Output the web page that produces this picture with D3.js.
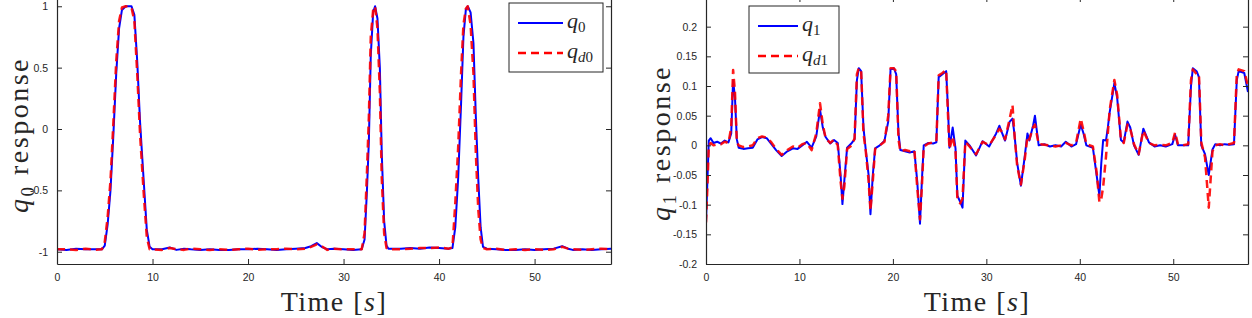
<!DOCTYPE html>
<html>
<head>
<meta charset="utf-8">
<script src="https://cdn.jsdelivr.net/npm/d3@7"></script>
<style>
  body { margin: 0; background: #fff; }
  svg { display: block; }
  .tick text { font-family: "Liberation Sans", Arial, sans-serif; font-size: 10.5px; fill: #262626; }
  .lbl { font-family: "Liberation Serif", "DejaVu Serif", serif; fill: #262626; }
</style>
</head>
<body>
<svg id="chart" width="1252" height="318"></svg>
<script>
// left panel: q0 vs desired qd0
const time0 = [0, 1, 2, 3, 4, 4.7, 5.0, 5.3, 5.6, 5.9, 6.2, 6.5, 6.8, 7.2, 7.8, 8.1, 8.4, 8.7, 9.1, 9.4, 9.7, 10,
  11, 11.8, 12.5, 13.3, 14, 15, 16, 17, 18, 19, 20, 21, 22, 23, 24, 25, 26, 26.6, 27.2, 27.8, 28.3, 29, 30, 31,
  31.9, 32.2, 32.45, 32.65, 32.85, 33.1, 33.3, 33.55, 33.8, 34.0, 34.25, 34.5, 34.7,
  36, 37, 38, 39, 40, 41, 41.4, 41.7, 42.0, 42.3, 42.55, 42.8, 43.0, 43.3, 43.6, 43.85, 44.1, 44.35, 44.6,
  45, 46, 47, 48, 49, 50, 51, 52, 52.9, 53.5, 54, 55, 56, 57, 58];
const q0 = [-0.98, -0.985, -0.975, -0.98, -0.98, -0.98, -0.95, -0.78, -0.5, -0.05, 0.45, 0.82, 0.97, 1.0, 1.0, 0.93, 0.55, 0.05, -0.45, -0.82, -0.96, -0.98,
  -0.98, -0.965, -0.985, -0.975, -0.98, -0.985, -0.98, -0.985, -0.985, -0.98, -0.98, -0.975, -0.98, -0.985, -0.98, -0.975, -0.97, -0.955, -0.93, -0.965, -0.98, -0.975, -0.98, -0.985,
  -0.98, -0.9, -0.5, -0.1, 0.6, 0.95, 1.0, 0.9, 0.5, -0.2, -0.75, -0.95, -0.975,
  -0.975, -0.97, -0.975, -0.965, -0.97, -0.975, -0.97, -0.8, -0.4, 0.2, 0.75, 0.97, 1.0, 0.95, 0.7, 0.1, -0.4, -0.8, -0.96,
  -0.975, -0.98, -0.985, -0.985, -0.98, -0.985, -0.98, -0.975, -0.955, -0.975, -0.985, -0.98, -0.985, -0.98, -0.975];
const qd0 = [-0.98, -0.98, -0.985, -0.975, -0.985, -0.98, -0.92, -0.72, -0.42, 0.05, 0.55, 0.88, 0.99, 1.0, 0.99, 0.88, 0.45, -0.05, -0.55, -0.88, -0.98, -0.98,
  -0.985, -0.97, -0.98, -0.985, -0.975, -0.98, -0.985, -0.98, -0.985, -0.98, -0.975, -0.985, -0.98, -0.98, -0.975, -0.98, -0.975, -0.96, -0.94, -0.96, -0.985, -0.975, -0.98, -0.98,
  -0.98, -0.85, -0.35, 0.1, 0.75, 0.97, 1.0, 0.82, 0.3, -0.4, -0.85, -0.97, -0.98,
  -0.98, -0.975, -0.97, -0.97, -0.965, -0.975, -0.965, -0.6, -0.15, 0.45, 0.85, 0.98, 1.0, 0.85, 0.45, -0.2, -0.65, -0.9, -0.97,
  -0.98, -0.975, -0.985, -0.98, -0.985, -0.98, -0.985, -0.98, -0.96, -0.975, -0.98, -0.985, -0.98, -0.975, -0.98];

// right panel: q1 vs desired qd1
const time1 = [0, 0.15, 0.3, 0.5, 0.8, 1.2, 1.6, 2.0, 2.4, 2.7, 2.9, 3.1, 3.3, 3.5, 4.0, 4.5, 5.0, 5.5, 6.0, 6.5, 7.0, 7.5, 8.1, 8.7, 9.3, 9.8,
  10.3, 10.8, 11.3, 11.8, 12.2, 12.5, 12.8, 13.3, 13.7, 14.1, 14.4, 14.6, 14.8, 15.1, 15.6, 15.9, 16.15, 16.35, 16.6, 16.85, 17.1, 17.4, 17.6, 17.85,
  18.1, 18.6, 19.1, 19.5, 19.75, 20.1, 20.35, 20.6, 20.8, 21.3, 21.8, 22.3, 22.6, 22.9, 23.1, 23.3, 23.8, 24.3, 24.65, 24.9, 25.3, 25.7, 25.9,
  26.05, 26.4, 26.7, 26.9, 27.2, 27.45, 27.75, 28.2, 28.9, 29.6, 30.3, 31.05, 31.4, 31.7, 32.0, 32.5, 32.8, 33.0, 33.3, 33.7, 34.1, 34.4, 34.6,
  35.0, 35.2, 35.6, 36.2, 36.8, 37.4, 38.0, 38.5, 39.1, 39.6, 40.1, 40.4, 40.7, 41.4, 41.8, 42.1, 42.3, 42.5, 42.8, 43.0, 43.2, 43.5, 43.7,
  44.0, 44.4, 44.7, 45.1, 45.4, 45.8, 46.3, 46.8, 47.4, 48.0, 48.6, 49.2, 49.9, 50.2, 50.5, 51.0, 51.6, 51.9, 52.1, 52.5, 52.75, 53.0, 53.4,
  53.8, 54.2, 54.5, 55.0, 55.5, 56.0, 56.5, 56.8, 57.0, 57.6, 58.0];
const q1 = [-0.13, -0.06, 0.008, 0.012, 0.004, 0.006, 0.003, 0.008, 0.005, 0.02, 0.11, 0.08, 0.01, -0.004, -0.006, -0.005, -0.004, 0.01, 0.014, 0.012, 0.002, -0.008, -0.018, -0.01, -0.005, -0.006,
  0.0, 0.006, -0.004, 0.015, 0.06, 0.03, 0.014, 0.003, 0.009, 0.004, -0.05, -0.099, -0.06, -0.004, 0.004, 0.01, 0.11, 0.13, 0.125, 0.03, -0.008, -0.05, -0.116, -0.05,
  -0.005, 0.0, 0.008, 0.04, 0.128, 0.13, 0.12, 0.02, -0.008, -0.01, -0.012, -0.01, -0.06, -0.132, -0.06, 0.0, 0.004, 0.003, 0.005, 0.115, 0.12, 0.125, 0.06,
  -0.004, 0.03, -0.005, -0.085, -0.095, -0.105, 0.008, 0.0, -0.017, 0.007, -0.002, 0.02, 0.033, 0.02, 0.008, 0.04, 0.045, 0.02, -0.03, -0.068, -0.02, 0.02, 0.008,
  0.033, 0.05, 0.0, 0.002, -0.002, 0.0, -0.002, 0.006, -0.002, 0.002, 0.035, 0.02, 0.0, -0.004, -0.05, -0.085, -0.03, 0.009, 0.008, 0.03, 0.056, 0.085, 0.105,
  0.08, 0.009, 0.005, 0.04, 0.03, 0.0, -0.016, 0.028, 0.005, -0.002, 0.0, -0.002, 0.002, 0.018, 0.0, 0.0, 0.0, 0.1, 0.13, 0.125, 0.115, 0.0, -0.015,
  -0.05, -0.007, 0.002, 0.0, 0.002, 0.001, 0.002, 0.11, 0.125, 0.122, 0.09];
const qd1 = [-0.13, -0.07, 0.0, 0.004, 0.0, 0.002, 0.002, 0.006, 0.004, 0.03, 0.127, 0.09, 0.005, 0.0, -0.003, -0.002, 0.0, 0.012, 0.015, 0.013, 0.005, -0.006, -0.016, -0.008, -0.002, -0.004,
  0.002, 0.004, -0.008, 0.02, 0.071, 0.035, 0.012, 0.004, 0.01, 0.0, -0.06, -0.09, -0.07, -0.006, 0.0, 0.012, 0.12, 0.13, 0.128, 0.02, -0.01, -0.06, -0.11, -0.06,
  -0.006, 0.0, 0.006, 0.05, 0.13, 0.13, 0.125, 0.01, -0.01, -0.008, -0.01, -0.008, -0.07, -0.125, -0.07, -0.002, 0.003, 0.005, 0.006, 0.118, 0.122, 0.127, 0.05,
  -0.006, 0.015, -0.01, -0.09, -0.098, -0.09, 0.006, -0.002, -0.015, 0.006, 0.0, 0.018, 0.028, 0.022, 0.01, 0.045, 0.068, 0.02, -0.035, -0.066, -0.025, 0.015, 0.01,
  0.03, 0.035, 0.002, 0.001, 0.0, -0.002, 0.0, 0.004, 0.0, 0.004, 0.045, 0.025, 0.002, -0.002, -0.045, -0.096, -0.09, -0.07, -0.02, 0.02, 0.06, 0.09, 0.11,
  0.085, 0.01, 0.004, 0.035, 0.028, 0.002, -0.015, 0.025, 0.004, 0.0, 0.001, 0.0, 0.004, 0.022, 0.002, 0.0, 0.002, 0.11, 0.128, 0.12, 0.12, 0.005, -0.02,
  -0.105, -0.01, 0.0, 0.002, 0.0, 0.002, 0.004, 0.12, 0.128, 0.125, 0.1];

const xTicks = [0, 10, 20, 30, 40, 50];
const yTicks0 = [-1, -0.5, 0, 0.5, 1];
const yTicks1 = [-0.2, -0.15, -0.1, -0.05, 0, 0.05, 0.1, 0.15, 0.2];

const svg = d3.select("#chart");
const axisColor = "#262626";

function panel(opts) {
  const { left, right, top, bottom, ydom, yticks, t, q, qd, sub, legend, ylab } = opts;
  const x = d3.scaleLinear().domain([0, 58]).range([left, right]);
  const y = d3.scaleLinear().domain(ydom).range([bottom, top]);
  const g = svg.append("g");

  const line = d3.line().x((d) => x(d[0])).y((d) => y(d[1]));
  const clipId = "clip" + sub;
  svg.append("clipPath").attr("id", clipId)
    .append("rect").attr("x", left).attr("y", top).attr("width", right - left).attr("height", bottom - top);

  g.append("path")
    .datum(t.map((v, i) => [v, q[i]]))
    .attr("clip-path", `url(#${clipId})`)
    .attr("d", line)
    .attr("fill", "none")
    .attr("stroke", "#0000ff")
    .attr("stroke-width", 2)
    .attr("stroke-linejoin", "round");

  g.append("path")
    .datum(t.map((v, i) => [v, qd[i]]))
    .attr("clip-path", `url(#${clipId})`)
    .attr("d", line)
    .attr("fill", "none")
    .attr("stroke", "#ff0000")
    .attr("stroke-opacity", 0.9)
    .attr("stroke-width", 2.5)
    .attr("stroke-dasharray", "8,5")
    .attr("stroke-linejoin", "round");

  // axes, matlab style: ticks inside, box on
  const styleAxis = (sel) => {
    sel.select(".domain").attr("stroke", axisColor);
    sel.selectAll(".tick line").attr("stroke", axisColor);
  };
  g.append("g").attr("transform", `translate(0,${bottom})`)
    .call(d3.axisBottom(x).tickValues(xTicks).tickSizeInner(-5).tickSizeOuter(0).tickPadding(10).tickFormat(d3.format("d")))
    .call(styleAxis);
  g.append("g").attr("transform", `translate(0,${top})`)
    .call(d3.axisTop(x).tickValues(xTicks).tickSizeInner(-5).tickSizeOuter(0).tickFormat(""))
    .call(styleAxis);
  g.append("g").attr("transform", `translate(${left},0)`)
    .call(d3.axisLeft(y).tickValues(yticks).tickSizeInner(-5).tickSizeOuter(0).tickPadding(9).tickFormat((d) => String(d)))
    .call(styleAxis);
  g.append("g").attr("transform", `translate(${right},0)`)
    .call(d3.axisRight(y).tickValues(yticks).tickSizeInner(-5).tickSizeOuter(0).tickFormat(""))
    .call(styleAxis);
  g.selectAll(".domain").attr("stroke-width", 1.2);

  // x label
  const xl = g.append("text").attr("class", "lbl")
    .attr("x", (left + right) / 2).attr("y", 311)
    .attr("text-anchor", "middle").attr("font-size", 28)
    .attr("letter-spacing", 1.5);
  xl.append("tspan").text("Time [");
  xl.append("tspan").attr("font-style", "italic").text("s");
  xl.append("tspan").text("]");

  // y label
  const yl = g.append("text").attr("class", "lbl")
    .attr("transform", `translate(${ylab.x},${ylab.y}) rotate(-90)`)
    .attr("text-anchor", "middle").attr("font-size", 28)
    .attr("letter-spacing", 2.5);
  yl.append("tspan").attr("font-style", "italic").text("q");
  yl.append("tspan").attr("font-size", 19).attr("dy", 6).text(sub);
  yl.append("tspan").attr("dy", -6).text(" response");

  // legend
  const lg = g.append("g");
  lg.append("rect")
    .attr("x", legend.x).attr("y", legend.y).attr("width", legend.w).attr("height", legend.h)
    .attr("fill", "#fff").attr("stroke", axisColor).attr("stroke-width", 1);
  const rows = [
    { c: "#0000ff", dash: null, w: 2, s: sub },
    { c: "#ff0000", dash: "8,5", w: 2.5, s: "d" + sub }
  ];
  rows.forEach((r, i) => {
    const yy = legend.y + 20 + i * 30;
    lg.append("line")
      .attr("x1", legend.x + 9).attr("x2", legend.x + 9 + legend.len)
      .attr("y1", yy).attr("y2", yy)
      .attr("stroke", r.c).attr("stroke-width", r.w)
      .attr("stroke-dasharray", r.dash);
    const tx = lg.append("text").attr("class", "lbl")
      .attr("x", legend.x + 13 + legend.len).attr("y", yy + 5).attr("font-size", 22);
    tx.append("tspan").attr("font-style", "italic").text("q");
    if (r.s.length > 1) {
      tx.append("tspan").attr("font-size", 15).attr("font-style", "italic").attr("dy", 4).text("d");
      tx.append("tspan").attr("font-size", 15).text(sub);
    } else {
      tx.append("tspan").attr("font-size", 15).attr("dy", 4).text(sub);
    }
  });
}

panel({
  left: 57, right: 611, top: -6, bottom: 264,
  ydom: [-1.1, 1.1], yticks: yTicks0,
  t: time0, q: q0, qd: qd0, sub: "0",
  legend: { x: 509, y: 3, w: 94, h: 69, len: 45 },
  ylab: { x: 28, y: 135 }
});

panel({
  left: 706, right: 1248, top: -3, bottom: 264,
  ydom: [-0.2, 0.25], yticks: yTicks1,
  t: time1, q: q1, qd: qd1, sub: "1",
  legend: { x: 749, y: 6, w: 90, h: 67, len: 40 },
  ylab: { x: 670, y: 143 }
});
</script>
</body>
</html>
